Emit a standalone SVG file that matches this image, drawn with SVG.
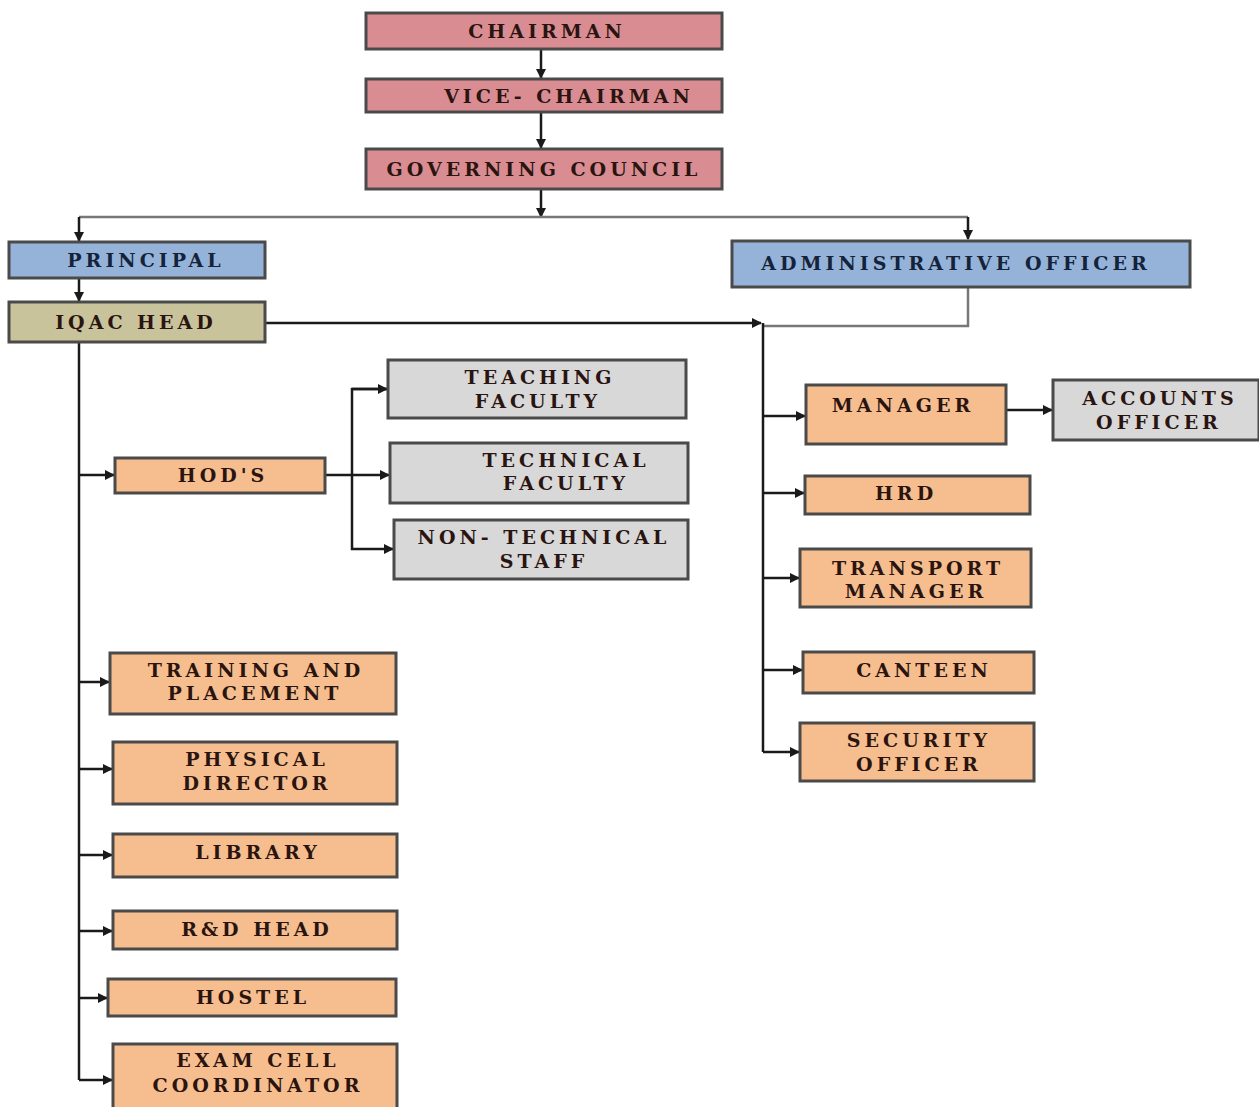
<svg xmlns="http://www.w3.org/2000/svg" width="1259" height="1107" viewBox="0 0 1259 1107">
<style>
.box{stroke:#4a4a4a;stroke-width:3}
.pink{fill:#d98d92}
.blue{fill:#95b3d8}
.khaki{fill:#c8c39b}
.orange{fill:#f6be8e}
.gray{fill:#d8d8d8}
.t{font-family:"DejaVu Serif","Liberation Serif",serif;font-weight:bold;font-size:19px;fill:#2a1410;text-anchor:middle;letter-spacing:4px}
.tb{fill:#14223a}
.c{fill:none;stroke:#1a1a1a;stroke-width:2.5}
.cg{fill:none;stroke:#777;stroke-width:2.5}
</style>
<defs>
<marker id="ah" markerWidth="10" markerHeight="10" refX="9" refY="5" orient="auto" markerUnits="userSpaceOnUse">
<path d="M0,0 L10,5 L0,10 z" fill="#1a1a1a"/>
</marker>
</defs>
<rect width="1259" height="1107" fill="#ffffff"/>
<g id="connectors">
<line class="c" x1="541" y1="49" x2="541" y2="78" marker-end="url(#ah)"/>
<line class="c" x1="541" y1="112" x2="541" y2="148" marker-end="url(#ah)"/>
<line class="c" x1="541" y1="189" x2="541" y2="217" marker-end="url(#ah)"/>
<polyline class="cg" points="79,217 968,217"/>
<line class="c" x1="79" y1="217" x2="79" y2="241" marker-end="url(#ah)"/>
<line class="c" x1="968" y1="217" x2="968" y2="239" marker-end="url(#ah)"/>
<line class="c" x1="79" y1="278" x2="79" y2="301" marker-end="url(#ah)"/>
<line class="c" x1="265" y1="323" x2="761" y2="323" marker-end="url(#ah)" stroke-width="3.5"/>
<polyline class="cg" points="968,287 968,326 763,326"/>
<line class="c" x1="763" y1="323" x2="763" y2="752"/>
<line class="c" x1="763" y1="416" x2="805" y2="416" marker-end="url(#ah)"/>
<line class="c" x1="1006" y1="410" x2="1052" y2="410" marker-end="url(#ah)"/>
<line class="c" x1="763" y1="493" x2="804" y2="493" marker-end="url(#ah)"/>
<line class="c" x1="763" y1="578" x2="799" y2="578" marker-end="url(#ah)"/>
<line class="c" x1="763" y1="670" x2="802" y2="670" marker-end="url(#ah)"/>
<line class="c" x1="763" y1="752" x2="799" y2="752" marker-end="url(#ah)"/>
<line class="c" x1="79" y1="342" x2="79" y2="1080"/>
<line class="c" x1="79" y1="475" x2="114" y2="475" marker-end="url(#ah)"/>
<line class="c" x1="325" y1="475" x2="389" y2="475" marker-end="url(#ah)"/>
<polyline class="c" points="387,389 352,389 352,549 393,549" marker-end="url(#ah)"/>
<line class="c" x1="352" y1="389" x2="387" y2="389" marker-end="url(#ah)"/>
<line class="c" x1="79" y1="682" x2="109" y2="682" marker-end="url(#ah)"/>
<line class="c" x1="79" y1="769" x2="112" y2="769" marker-end="url(#ah)"/>
<line class="c" x1="79" y1="855" x2="112" y2="855" marker-end="url(#ah)"/>
<line class="c" x1="79" y1="931" x2="112" y2="931" marker-end="url(#ah)"/>
<line class="c" x1="79" y1="998" x2="107" y2="998" marker-end="url(#ah)"/>
<line class="c" x1="79" y1="1080" x2="112" y2="1080" marker-end="url(#ah)"/>
</g>
<g id="chairman"><rect class="box pink" x="366" y="13" width="356" height="36"/><text class="t" x="547" y="38">CHAIRMAN</text></g>
<g id="vice-chairman"><rect class="box pink" x="366" y="79" width="356" height="33"/><text class="t" x="569" y="103">VICE- CHAIRMAN</text></g>
<g id="governing-council"><rect class="box pink" x="366" y="149" width="356" height="40"/><text class="t" x="544" y="176">GOVERNING COUNCIL</text></g>
<g id="principal"><rect class="box blue" x="9" y="242" width="256" height="36"/><text class="t tb" x="146" y="267">PRINCIPAL</text></g>
<g id="administrative-officer"><rect class="box blue" x="732" y="241" width="458" height="46"/><text class="t tb" x="956" y="270">ADMINISTRATIVE OFFICER</text></g>
<g id="iqac-head"><rect class="box khaki" x="9" y="302" width="256" height="40"/><text class="t" x="136" y="329">IQAC HEAD</text></g>
<g id="hods"><rect class="box orange" x="115" y="458" width="210" height="35"/><text class="t" x="223" y="482">HOD'S</text></g>
<g id="teaching-faculty"><rect class="box gray" x="388" y="360" width="298" height="58"/><text class="t" x="540" y="384">TEACHING</text><text class="t" x="538" y="408">FACULTY</text></g>
<g id="technical-faculty"><rect class="box gray" x="390" y="443" width="298" height="60"/><text class="t" x="566" y="467">TECHNICAL</text><text class="t" x="566" y="490">FACULTY</text></g>
<g id="non-technical-staff"><rect class="box gray" x="394" y="520" width="294" height="59"/><text class="t" x="544" y="544">NON- TECHNICAL</text><text class="t" x="544" y="568">STAFF</text></g>
<g id="training-placement"><rect class="box orange" x="110" y="653" width="286" height="61"/><text class="t" x="256" y="677">TRAINING AND</text><text class="t" x="255" y="700">PLACEMENT</text></g>
<g id="physical-director"><rect class="box orange" x="113" y="742" width="284" height="62"/><text class="t" x="257" y="766">PHYSICAL</text><text class="t" x="257" y="790">DIRECTOR</text></g>
<g id="library"><rect class="box orange" x="113" y="834" width="284" height="43"/><text class="t" x="258" y="859">LIBRARY</text></g>
<g id="rd-head"><rect class="box orange" x="113" y="911" width="284" height="38"/><text class="t" x="257" y="936">R&amp;D HEAD</text></g>
<g id="hostel"><rect class="box orange" x="108" y="979" width="288" height="37"/><text class="t" x="253" y="1004">HOSTEL</text></g>
<g id="exam-cell"><rect class="box orange" x="113" y="1044" width="284" height="66"/><text class="t" x="258" y="1067">EXAM CELL</text><text class="t" x="258" y="1092">COORDINATOR</text></g>
<g id="manager"><rect class="box orange" x="806" y="385" width="200" height="59"/><text class="t" x="903" y="412">MANAGER</text></g>
<g id="accounts-officer"><rect class="box gray" x="1053" y="380" width="206" height="60"/><text class="t" x="1160" y="405">ACCOUNTS</text><text class="t" x="1159" y="429">OFFICER</text></g>
<g id="hrd"><rect class="box orange" x="805" y="476" width="225" height="38"/><text class="t" x="906" y="500">HRD</text></g>
<g id="transport-manager"><rect class="box orange" x="800" y="549" width="231" height="58"/><text class="t" x="918" y="575">TRANSPORT</text><text class="t" x="916" y="598">MANAGER</text></g>
<g id="canteen"><rect class="box orange" x="803" y="652" width="231" height="41"/><text class="t" x="924" y="677">CANTEEN</text></g>
<g id="security-officer"><rect class="box orange" x="800" y="723" width="234" height="58"/><text class="t" x="919" y="747">SECURITY</text><text class="t" x="919" y="771">OFFICER</text></g>
</svg>
